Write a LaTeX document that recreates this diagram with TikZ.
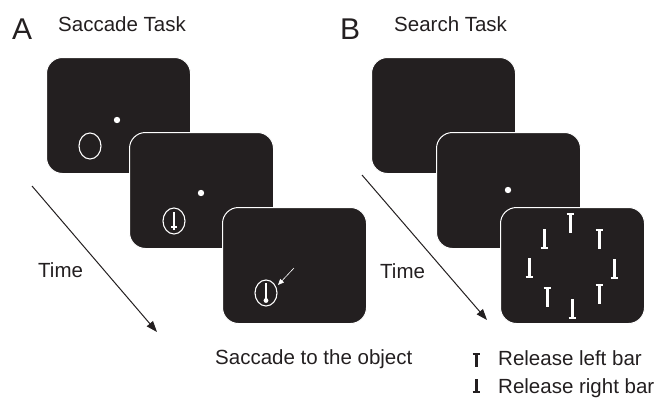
\documentclass[tikz,border=0pt]{standalone}
\usepackage{fontspec}
\setmainfont{Liberation Sans}
\usetikzlibrary{arrows.meta,shapes.geometric}
\definecolor{scr}{HTML}{231F20}
\begin{document}
\begin{tikzpicture}[x=1pt,y=-1pt,
  screen/.style={draw=white, line width=1pt, fill=scr, rounded corners=16pt,
    minimum width=144pt, minimum height=116pt, anchor=north west, inner sep=0pt},
  lbl/.style={font=\fontsize{20.5}{24}\selectfont, text=scr, anchor=base west, inner sep=0pt},
  big/.style={font=\fontsize{30}{34}\selectfont, text=scr, anchor=base west, inner sep=0pt},
  fix/.style={circle, fill=white, minimum size=6.4pt, inner sep=0pt},
  obj/.style={ellipse, draw=white, line width=1.1pt, minimum width=22pt, minimum height=26pt, inner sep=0pt},
  timearrow/.style={draw=scr, line width=1pt, -{Triangle[length=11pt,width=8pt]}},
  upitem/.pic={\draw[white,line width=3pt] (0,1)--(0,20); \draw[white,line width=2.4pt] (-3.5,1.2)--(3.5,1.2);},
  downitem/.pic={\draw[white,line width=3pt] (0,0)--(0,19); \draw[white,line width=2.4pt] (-3.5,18.8)--(3.5,18.8);}
]
\useasboundingbox (0,0) rectangle (661,399);
% Panel A
\node[big] (A) at (12,39) {A};
\node[lbl] (ta) at (58,31) {Saccade Task};
\node[screen] (a1) at (46,57) {};
\node[screen] (a2) at (129,132) {};
\node[screen] (a3) at (222,207) {};
\node[fix] (a1f) at (117,120) {};
\node[obj] (a1o) at (90,146) {};
\node[fix] (a2f) at (201,193) {};
\node[obj] (a2o) at (174,221) {};
\draw[white,line width=2.4pt] (174,212)--(174,230);
\draw[white,line width=2pt] (171,227)--(177,227);
\node[obj] (a3o) at (266,293) {};
\draw[white,line width=2.4pt] (266,283)--(266,300);
\fill[white] (266,300.5) circle (2.4);
\coordinate (sacs) at (294,268);
\coordinate (sace) at (278,285);
\draw[white,line width=0.6pt,-{Triangle[length=6pt,width=5pt]}] (sacs)--(sace);
\coordinate (ta1) at (32,186);
\coordinate (ta2) at (157,332);
\draw[timearrow] (ta1)--(ta2);
\node[lbl] (timea) at (38,277) {Time};
\node[lbl] (sacl) at (215,364) {Saccade to the object};
% Panel B
\node[big] (B) at (340,39) {B};
\node[lbl] (tb) at (394,31) {Search Task};
\node[screen] (b1) at (371,57) {};
\node[screen] (b2) at (436,132) {};
\node[screen] (b3) at (500,207) {};
\node[fix] (b2f) at (508,190) {};
\pic at (570,213) {upitem};
\pic at (599,229) {upitem};
\pic at (599,284) {upitem};
\pic at (547,287) {upitem};
\pic at (614,259) {downitem};
\pic at (572,299) {downitem};
\pic at (529,258) {downitem};
\pic at (544,229) {downitem};
\coordinate (tb1) at (362,175);
\coordinate (tb2) at (487,320);
\draw[timearrow] (tb1)--(tb2);
\node[lbl] (timeb) at (380,278) {Time};
% legend
\draw[scr,line width=3pt] (476,353)--(476,367);
\draw[scr,line width=2.2pt] (472.5,354)--(479.5,354);
\draw[scr,line width=3pt] (476,379)--(476,393);
\draw[scr,line width=2.2pt] (472.5,392)--(479.5,392);
\node[lbl] (rl) at (498,365) {Release left bar};
\node[lbl] (rr) at (498,393) {Release right bar};
\end{tikzpicture}
\end{document}
